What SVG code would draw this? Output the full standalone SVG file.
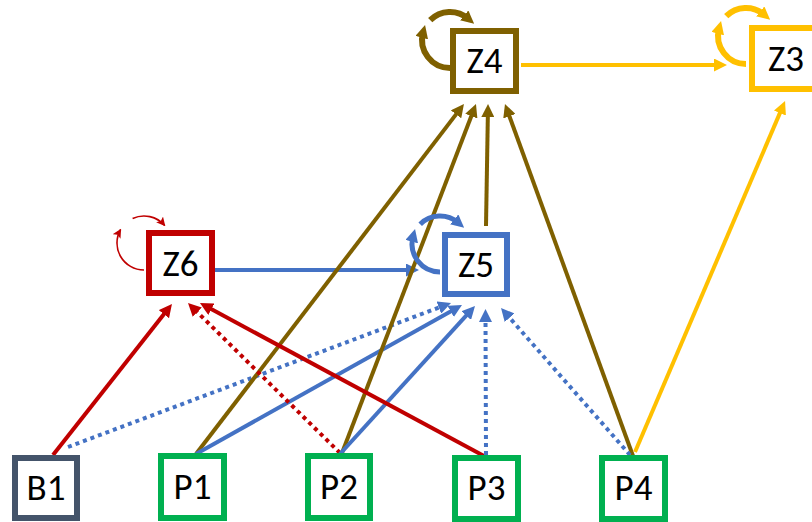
<svg xmlns="http://www.w3.org/2000/svg" width="812" height="522" viewBox="0 0 812 522">
<style>
.box{fill:#fff;stroke-width:6}
.lbl{font-family:Calibri,Carlito,"Liberation Sans",Arial,sans-serif;font-size:37px;fill:#000;text-anchor:middle}
.e{fill:none;stroke-width:4;stroke-linecap:butt}
.dot{stroke-dasharray:4 4}
.brown{stroke:#7F6000}.yellow{stroke:#FFC000}.blue{stroke:#4472C4}.red{stroke:#C00000}
.loop{fill:none;stroke-width:6}
</style>
<defs>
<marker id="aBrown" markerUnits="userSpaceOnUse" markerWidth="13" markerHeight="13" refX="5" refY="6.5" orient="auto"><path d="M0,0 L13,6.5 L0,13 z" fill="#7F6000"/></marker>
<marker id="aYellow" markerUnits="userSpaceOnUse" markerWidth="13" markerHeight="13" refX="5" refY="6.5" orient="auto"><path d="M0,0 L13,6.5 L0,13 z" fill="#FFC000"/></marker>
<marker id="aBlue" markerUnits="userSpaceOnUse" markerWidth="13" markerHeight="13" refX="5" refY="6.5" orient="auto"><path d="M0,0 L13,6.5 L0,13 z" fill="#4472C4"/></marker>
<marker id="aRed" markerUnits="userSpaceOnUse" markerWidth="13" markerHeight="13" refX="5" refY="6.5" orient="auto"><path d="M0,0 L13,6.5 L0,13 z" fill="#C00000"/></marker>
<marker id="aRedS" markerUnits="userSpaceOnUse" markerWidth="9" markerHeight="9" refX="8" refY="4.5" orient="auto"><path d="M0,0 L9,4.5 L0,9 L2,4.5 z" fill="#C00000"/></marker>
</defs>
<g id="connectors">
<path class="e yellow" d="M521,65 L719,65" marker-end="url(#aYellow)"/>
<path class="e blue" d="M215,270 L411,270" marker-end="url(#aBlue)"/>
<path class="e red" d="M53,455 L167,310.3" marker-end="url(#aRed)"/>
<path class="e blue dot" d="M68,447 L443.5,305.8" marker-end="url(#aBlue)"/>
<path class="e brown" d="M196,454 L459.1,110.4" marker-end="url(#aBrown)"/>
<path class="e blue" d="M196,454 L455,308.9" marker-end="url(#aBlue)"/>
<path class="e red dot" d="M340,453 L193.7,308.6" marker-end="url(#aRed)"/>
<path class="e brown" d="M342,453 L473.1,111.5" marker-end="url(#aBrown)"/>
<path class="e blue" d="M340,454 L469.6,311.9" marker-end="url(#aBlue)"/>
<path class="e red" d="M484,456 L207,306.8" marker-end="url(#aRed)"/>
<path class="e blue dot" d="M486,455 L485.5,317" marker-end="url(#aBlue)"/>
<path class="e brown" d="M486,226 L487.9,112" marker-end="url(#aBrown)"/>
<path class="e brown" d="M633,456 L507.7,111.5" marker-end="url(#aBrown)"/>
<path class="e blue dot" d="M630,455 L506.3,314" marker-end="url(#aBlue)"/>
<path class="e yellow" d="M635,452 L781.9,108.4" marker-end="url(#aYellow)"/>
<path class="loop brown" d="M450,68 A28,28 0 0 1 423,32.8" marker-end="url(#aBrown)"/>
<path class="loop brown" d="M430.2,20.2 A28,28 0 0 1 468,18.6" marker-end="url(#aBrown)"/>
<path class="loop yellow" d="M746,64 A28,28 0 0 1 719,28.8" marker-end="url(#aYellow)"/>
<path class="loop yellow" d="M726.2,16.2 A28,28 0 0 1 764,14.6" marker-end="url(#aYellow)"/>
<path class="loop blue" style="stroke-width:5" d="M440,272 A28,28 0 0 1 413,236.8" marker-end="url(#aBlue)"/>
<path class="loop blue" style="stroke-width:5" d="M420.2,224.2 A28,28 0 0 1 458,222.6" marker-end="url(#aBlue)"/>
<path class="red" fill="none" stroke-width="1.6" d="M144,270 A27,27 0 0 1 120.6,229.5" marker-end="url(#aRedS)"/>
<path class="red" fill="none" stroke-width="1.6" d="M132.6,218.5 A27,27 0 0 1 164.7,225.6" marker-end="url(#aRedS)"/>
</g>
<g id="Z4"><rect class="box" x="453" y="31" width="63" height="60" stroke="#7F6000"/><text class="lbl" x="484.5" y="73">Z4</text></g>
<g id="Z3"><rect class="box" x="752" y="28" width="66" height="61" stroke="#FFC000"/><text class="lbl" x="786" y="71">Z3</text></g>
<g id="Z6"><rect class="box" x="149" y="233" width="63" height="60" stroke="#C00000"/><text class="lbl" x="180.5" y="276">Z6</text></g>
<g id="Z5"><rect class="box" x="445" y="235" width="62" height="59" stroke="#4472C4"/><text class="lbl" x="476" y="277">Z5</text></g>
<g id="B1"><rect class="box" x="15" y="458" width="62" height="60" stroke="#44546A"/><text class="lbl" x="46" y="500">B1</text></g>
<g id="P1"><rect class="box" x="161" y="456" width="63" height="62" stroke="#00B050"/><text class="lbl" x="192.5" y="499">P1</text></g>
<g id="P2"><rect class="box" x="308" y="456" width="62" height="62" stroke="#00B050"/><text class="lbl" x="339" y="499">P2</text></g>
<g id="P3"><rect class="box" x="455" y="458" width="63" height="61" stroke="#00B050"/><text class="lbl" x="486.5" y="500">P3</text></g>
<g id="P4"><rect class="box" x="602" y="458" width="63" height="61" stroke="#00B050"/><text class="lbl" x="633.5" y="500">P4</text></g>
</svg>
